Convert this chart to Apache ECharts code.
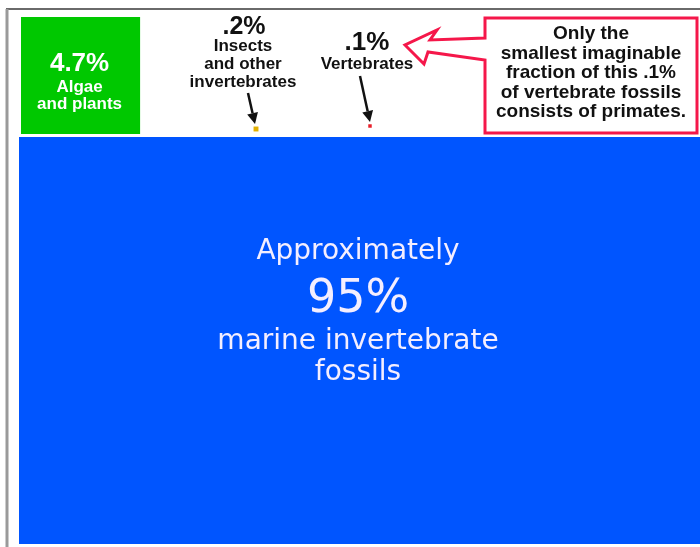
<!DOCTYPE html>
<html><head><meta charset="utf-8">
<script src="https://cdn.jsdelivr.net/npm/echarts@6/dist/echarts.min.js"></script>
<style>html,body{margin:0;padding:0;background:#fff}#c{width:700px;height:547px}</style>
</head><body><div id="c"></div>
<script>
// ---- data ----
const categories = ['Marine invertebrates', 'Algae and plants', 'Insects and other invertebrates', 'Vertebrates'];
const percentValues = [95, 4.7, 0.2, 0.1];
const valueLabels = ['95%', '4.7%', '.2%', '.1%'];
const nameLabels = ['marine invertebrate\nfossils', 'Algae\nand plants', 'Insects\nand other\ninvertebrates', 'Vertebrates'];
const blueLead = 'Approximately';
const calloutLines = ['Only the', 'smallest imaginable', 'fraction of this .1%', 'of vertebrate fossils', 'consists of primates.'];

// ---- style / layout (not data) ----
const COLORS = ['#0055ff', '#00c800', '#e2b000', '#e8202a'];
const STRIP = 120;          // height of the white top strip above the big block
const DOT_SCALE = 11;       // px per sqrt(percent) for tiny items
const DOT_OFFSET = {2: [237, 112], 3: [351, 109]};  // dot centres relative to plot origin
const BOLD = 'bold 17px "Liberation Sans", Arial, sans-serif';
const BLUE_FONT = '"DejaVu Sans", Verdana, sans-serif';

function arrow(x0, y0, x1, y1, color, w) {
  const dx = x1 - x0, dy = y1 - y0, L = Math.sqrt(dx*dx + dy*dy);
  const ux = dx / L, uy = dy / L, hl = 11, hw = 5.5;
  const bx = x1 - ux*hl, by = y1 - uy*hl;
  return [
    {type: 'line', shape: {x1: x0, y1: y0, x2: bx, y2: by}, style: {stroke: color, lineWidth: w}},
    {type: 'polygon', shape: {points: [[x1, y1], [bx - uy*hw, by + ux*hw], [bx + uy*hw, by - ux*hw]]}, style: {fill: color}}
  ];
}
function txt(x, y, text, font, fill, lh) {
  return {type: 'text', x: x, y: y, style: {text: text, font: font, fill: fill, textAlign: 'center', textVerticalAlign: 'middle', lineHeight: lh || undefined}};
}

function renderItem(params, api) {
  const i = params.dataIndex;
  const cs = params.coordSys;
  const v = api.value(1);
  const bigH = cs.height - STRIP;
  const bigArea = cs.width * bigH;
  if (i === 0) {
    const y0 = cs.y + STRIP;
    return {type: 'group', children: [
      {type: 'rect', shape: {x: cs.x, y: y0, width: cs.width, height: bigH}, style: {fill: COLORS[0]}},
      txt(358, y0 + 115, blueLead, '28px ' + BLUE_FONT, '#f4eeff'),
      txt(358, y0 + 163, valueLabels[0], '46px ' + BLUE_FONT, '#f4eeff'),
      txt(358, y0 + 220, nameLabels[0], '28px ' + BLUE_FONT, '#f4eeff', 31)
    ]};
  }
  if (i === 1) {
    const side = Math.sqrt(v / percentValues[0] * bigArea);
    const x = cs.x + 2, y = cs.y;
    const cx = x + side / 2;
    return {type: 'group', children: [
      {type: 'rect', shape: {x: x, y: y, width: side + 2, height: side}, style: {fill: COLORS[1]}},
      txt(cx, y + 47, valueLabels[1], 'bold 26px "Liberation Sans", Arial, sans-serif', '#ffffff'),
      txt(cx, y + 79, nameLabels[1], BOLD, '#ffffff', 17)
    ]};
  }
  const s = DOT_SCALE * Math.sqrt(v);
  const cx = cs.x + DOT_OFFSET[i][0], cy = cs.y + DOT_OFFSET[i][1];
  const children = [{type: 'rect', shape: {x: cx - s/2, y: cy - s/2, width: s, height: s}, style: {fill: COLORS[i]}}];
  if (i === 2) {
    children.push(txt(cx - 12, 27, valueLabels[2], 'bold 25px "Liberation Sans", Arial, sans-serif', '#111'));
    children.push(txt(cx - 13, 64, nameLabels[2], BOLD, '#111', 18));
    children.push(...arrow(cx - 8, 93, cx - 1, cy - 5, '#111', 2.5));
  } else {
    children.push(txt(cx - 3, 43, valueLabels[3], 'bold 26px "Liberation Sans", Arial, sans-serif', '#111'));
    children.push(txt(cx - 3, 64, nameLabels[3], BOLD, '#111'));
    children.push(...arrow(cx - 10, 76, cx, cy - 4, '#111', 2.5));
  }
  return {type: 'group', children: children};
}

const chart = echarts.init(document.getElementById('c'), null, {renderer: 'canvas'});
chart.setOption({
  backgroundColor: '#ffffff',
  animation: false,
  grid: {left: 19, right: 0, top: 17, bottom: 3},
  xAxis: {type: 'category', data: categories, show: false},
  yAxis: {type: 'value', min: 0, max: 100, show: false},
  series: [{
    type: 'custom',
    renderItem: renderItem,
    data: percentValues.map((v, i) => [i, v]),
    z: 2
  }],
  graphic: [
    {type: 'line', shape: {x1: 6, y1: 9, x2: 700, y2: 9}, style: {stroke: '#6a6a6a', lineWidth: 2}, z: 10},
    {type: 'line', shape: {x1: 7, y1: 9, x2: 7, y2: 547}, style: {stroke: '#9a9a9a', lineWidth: 3}, z: 10},
    {type: 'polygon', shape: {points: [[485, 18], [697, 18], [697, 133], [485, 133], [485, 60], [428, 52], [424, 64], [405, 45], [437, 30], [430, 40], [485, 38]]},
      style: {fill: '#ffffff', stroke: '#f5174a', lineWidth: 3, lineJoin: 'miter'}, z: 10},
    {type: 'text', x: 591, y: 73, style: {text: calloutLines.join('\n'), font: 'bold 19px "Liberation Sans", Arial, sans-serif', fill: '#111', textAlign: 'center', textVerticalAlign: 'middle', lineHeight: 19.5}, z: 11}
  ]
});
</script>
</body></html>
